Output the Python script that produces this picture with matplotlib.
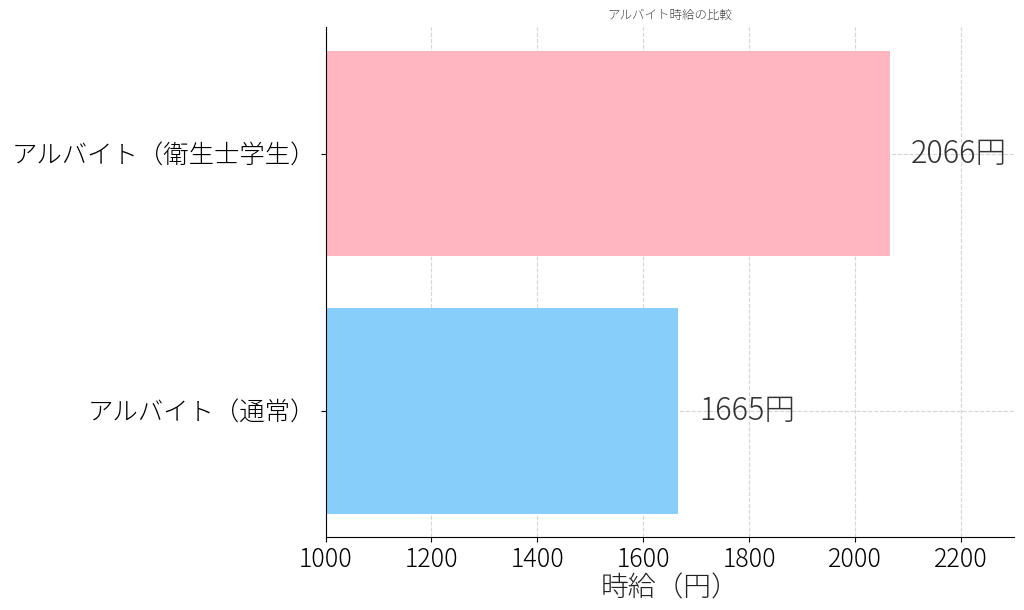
import matplotlib.pyplot as plt

plt.rcParams['font.family'] = ['Noto Sans CJK JP', 'DejaVu Sans']
plt.rcParams['font.weight'] = 'light'

# ---------------- DATA ----------------
categories = ["アルバイト（通常）", "アルバイト（衛生士学生）"]
wages = [1665, 2066]
colors = ["#87CEFA", "#FFB6C1"]
title = "アルバイト時給の比較"
xlabel = "時給（円）"

# ---------------- PLOT ----------------
fig, ax = plt.subplots(figsize=(10.24, 6.10), dpi=100)
ax.barh(categories, wages, color=colors, height=0.8)

for i, w in enumerate(wages):
    ax.text(w + 40, i, f"{w}円", va="center", ha="left", fontsize=22, color="#333333")

ax.set_xlim(1000, 2300)
ax.set_title(title, fontsize=9, color="#444444", fontweight="light")
ax.set_xlabel(xlabel, fontsize=20, color="#222222", labelpad=1, fontweight="light")
ax.tick_params(axis="x", labelsize=18)
ax.tick_params(axis="y", labelsize=18.3)
ax.grid(True, linestyle="--", color="#d5d5d5", linewidth=0.8)
ax.set_axisbelow(True)
ax.spines["top"].set_visible(False)
ax.spines["right"].set_visible(False)

fig.subplots_adjust(left=0.318, right=0.99, top=0.955, bottom=0.12)
fig.savefig("out.png")
